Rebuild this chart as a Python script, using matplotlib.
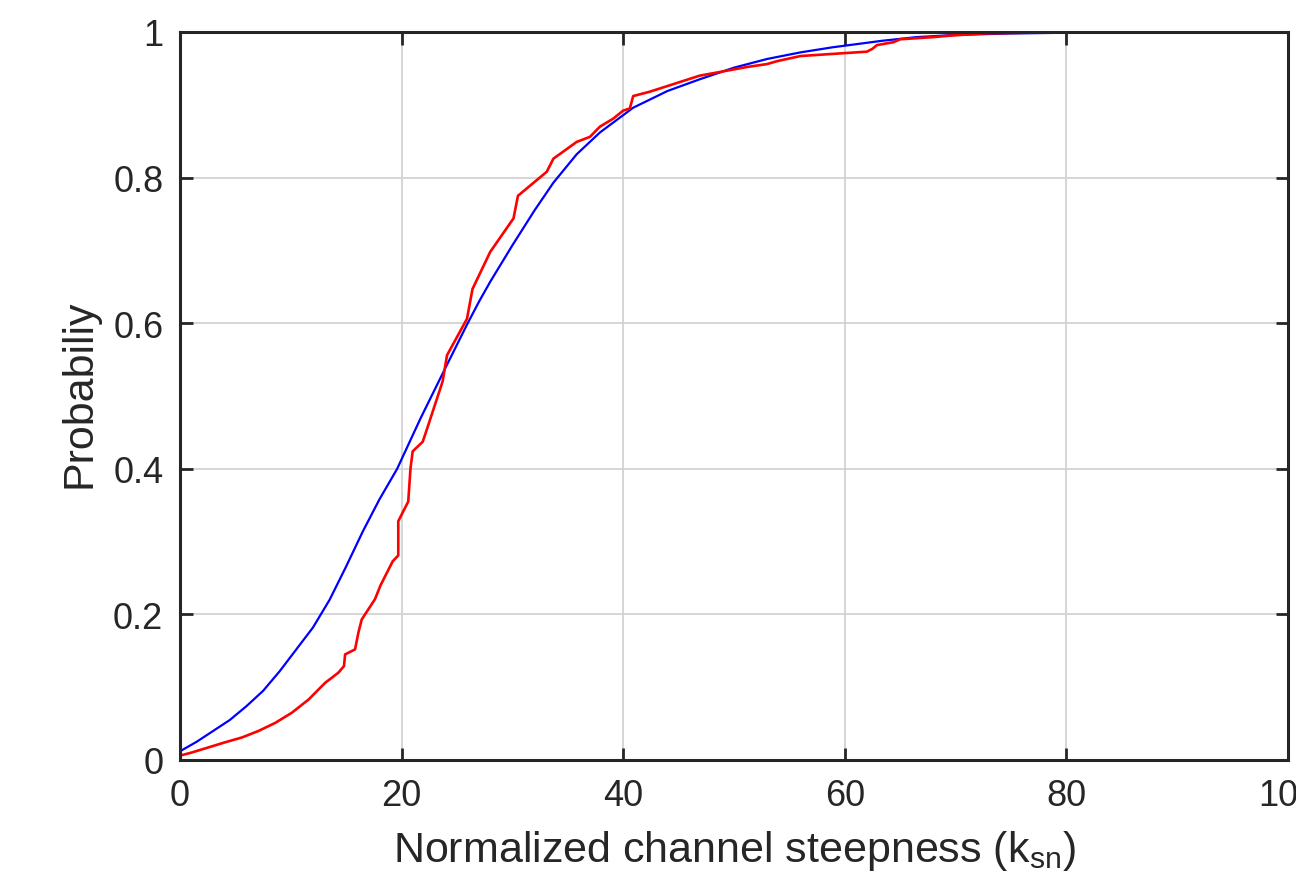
import matplotlib
matplotlib.use("Agg")
from matplotlib import pyplot as plt

plt.rcParams['font.family'] = ['Liberation Sans', 'DejaVu Sans']
plt.rcParams['mathtext.fontset'] = 'custom'
plt.rcParams['mathtext.rm'] = 'Liberation Sans'

# fitted CDF (blue)
fit_x = [0, 1.5, 3, 4.5, 6, 7.5, 9, 10.5, 12, 13.5, 15, 16.5, 18, 19.6, 21.7,
         24, 25.9, 27, 28, 30, 32, 33.7, 35.8, 37.9, 40.9, 44, 46.9, 50, 53,
         56, 58.9, 63.4, 66.5, 70, 75, 80, 90, 100]
fit_y = [0.012, 0.025, 0.040, 0.055, 0.074, 0.095, 0.122, 0.152, 0.182, 0.220,
         0.266, 0.314, 0.358, 0.40, 0.469, 0.54, 0.598, 0.63, 0.657, 0.707,
         0.755, 0.793, 0.832, 0.862, 0.896, 0.919, 0.935, 0.951, 0.963, 0.972,
         0.979, 0.988, 0.993, 0.996, 0.998, 0.999, 1.0, 1.0]

# empirical CDF (red)
emp_x = [0, 1, 2.5, 4, 5.6, 7.1, 8.6, 10.1, 11.6, 13.1, 14.3, 14.8, 14.9, 15.8,
         16.1, 16.4, 17.6, 18.1, 19.2, 19.7, 19.7, 20.6, 20.8, 21.0, 21.9, 22.3,
         23.7, 24.1, 25.9, 26.4, 28.0, 30.1, 30.5, 33.1, 33.7, 35.8, 37.0, 37.9,
         39.1, 40.0, 40.6, 40.9, 42.4, 46.9, 51.2, 53.0, 53.9, 56.0, 62.0, 62.5,
         62.9, 64.4, 65.0, 68.0, 69.5, 72.5, 80, 100]
emp_y = [0.006, 0.010, 0.017, 0.024, 0.031, 0.040, 0.051, 0.065, 0.083, 0.106,
         0.120, 0.129, 0.145, 0.152, 0.175, 0.193, 0.221, 0.240, 0.273, 0.281,
         0.328, 0.355, 0.400, 0.424, 0.437, 0.455, 0.520, 0.556, 0.606, 0.647,
         0.698, 0.744, 0.775, 0.808, 0.826, 0.849, 0.856, 0.870, 0.881, 0.892,
         0.895, 0.912, 0.918, 0.940, 0.952, 0.956, 0.960, 0.967, 0.973, 0.977,
         0.982, 0.986, 0.990, 0.993, 0.995, 0.998, 1.0, 1.0]

xticks = [0, 20, 40, 60, 80, 100]
yticks = [0, 0.2, 0.4, 0.6, 0.8, 1]
ytick_labels = ['0', '0.2', '0.4', '0.6', '0.8', '1']

fig = plt.figure(figsize=(12.96, 8.79), dpi=100)
ax = fig.add_axes([180 / 1296, 118 / 879, 1108 / 1296, 728 / 879])

ax.plot(fit_x, fit_y, color='#0000ff', lw=1.6)
ax.plot(emp_x, emp_y, color='#ff0000', lw=1.9)

ax.set_xlim(0, 100)
ax.set_ylim(0, 1)
ax.set_xticks(xticks)
ax.set_xticklabels([str(t) for t in xticks])
ax.set_yticks(yticks)
ax.set_yticklabels(ytick_labels)
ax.grid(True, color='#d0d0d0', lw=1.2)
ax.set_axisbelow(True)

ax.tick_params(direction='in', length=9, width=2, color='#262626',
               labelsize=26, labelcolor='#262626', top=True, right=True)
ax.tick_params(axis='x', pad=13)
ax.tick_params(axis='y', pad=12)
for s in ax.spines.values():
    s.set_linewidth(2.2)
    s.set_color('#262626')

ax.set_xlabel(r'Normalized channel steepness (k$_\mathregular{sn}$)',
              fontsize=31, color='#262626', labelpad=11)
ax.set_ylabel('Probabiliy', fontsize=31, color='#262626')
ax.yaxis.set_label_coords(-0.073, 0.505)

plt.savefig("out.png", dpi=100)
